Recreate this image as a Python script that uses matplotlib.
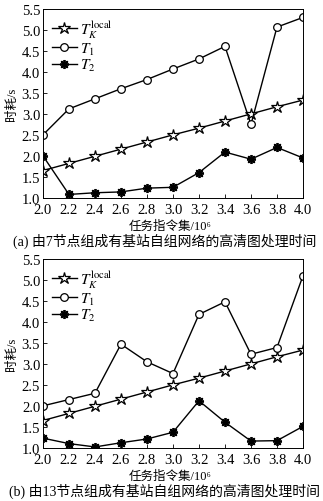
import numpy as np
import matplotlib
matplotlib.use('Agg')
import matplotlib.pyplot as plt

plt.rcParams['font.family'] = ['Liberation Serif', 'Noto Sans CJK SC', 'DejaVu Serif']
plt.rcParams['mathtext.fontset'] = 'stix'

x = [2.0, 2.2, 2.4, 2.6, 2.8, 3.0, 3.2, 3.4, 3.6, 3.8, 4.0]
xticks = [2.0, 2.2, 2.4, 2.6, 2.8, 3.0, 3.2, 3.4, 3.6, 3.8, 4.0]
yticks = [1.0, 1.5, 2.0, 2.5, 3.0, 3.5, 4.0, 4.5, 5.0, 5.5]

tk_local = [1.65, 1.82, 1.99, 2.16, 2.33, 2.50, 2.66, 2.83, 3.00, 3.17, 3.33]

t1_a = [2.50, 3.12, 3.36, 3.60, 3.82, 4.07, 4.31, 4.61, 2.75, 5.07, 5.30]
t2_a = [2.00, 1.08, 1.12, 1.14, 1.23, 1.25, 1.60, 2.09, 1.92, 2.20, 1.95]

t1_b = [2.00, 2.15, 2.30, 3.47, 3.05, 2.77, 4.18, 4.48, 3.23, 3.39, 5.10]
t2_b = [1.23, 1.10, 1.02, 1.12, 1.21, 1.37, 2.12, 1.61, 1.16, 1.17, 1.51]

captions = ['(a) 由7节点组成有基站自组网络的高清图处理时间',
            '(b) 由13节点组成有基站自组网络的高清图处理时间']

fig = plt.figure(figsize=(3.23, 5.02), dpi=100)
ax1 = fig.add_axes([0.133, 0.604, 0.805, 0.376])
ax2 = fig.add_axes([0.133, 0.106, 0.805, 0.376])

panels = [(ax1, t1_a, t2_a, captions[0], 0.548, 0.519),
          (ax2, t1_b, t2_b, captions[1], 0.050, 0.021)]

for ax, t1, t2, cap, ylab, ycap in panels:
    ax.plot(x, tk_local, color='black', lw=1, marker='*', ms=9, mfc='white', mec='black', mew=0.9,
            label=r'$T_K^{\mathrm{local}}$')
    ax.plot(x, t1, color='black', lw=1, marker='o', ms=5.5, mfc='white', mec='black', mew=0.9,
            label=r'$T_1$')
    ax.plot(x, t2, color='black', lw=1, marker=(8, 2, 0), ms=6.5, mec='black', mew=1.3,
            label=r'$T_2$')
    ax.set_xlim(2.0, 4.0)
    ax.set_ylim(1.0, 5.5)
    ax.set_xticks(xticks)
    ax.set_yticks(yticks)
    ax.set_xticklabels(['%.1f' % v for v in xticks])
    ax.set_yticklabels(['%.1f' % v for v in yticks])
    ax.tick_params(direction='in', length=3, width=0.6, labelsize=10.5, pad=2)
    ax.tick_params(axis='x', pad=4)
    for s in ax.spines.values():
        s.set_linewidth(0.7)
    ax.set_ylabel('时耗/s', fontsize=9, labelpad=3)
    ax.legend(loc='upper left', frameon=False, fontsize=11, handlelength=1.6,
              handletextpad=0.2, labelspacing=0.05, borderaxespad=0.2)
    fig.text(0.527, ylab, '任务指令集/10⁶', ha='center', va='center', fontsize=9)
    fig.text(0.51, ycap, cap, ha='center', va='center', fontsize=10)

fig.savefig('out.png', dpi=100)
